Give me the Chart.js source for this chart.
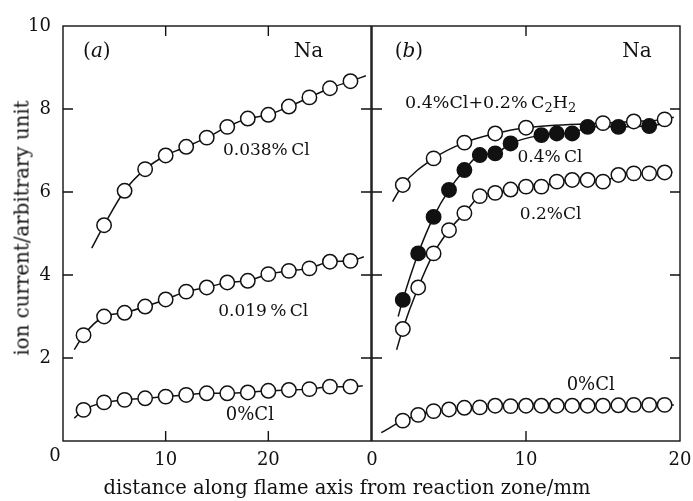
<!DOCTYPE html>
<html><head><meta charset="utf-8">
<script src="https://cdn.jsdelivr.net/npm/chart.js@4.4.1/dist/chart.umd.min.js"></script>
<style>
body{margin:0;background:#fff;width:693px;height:501px;overflow:hidden;position:relative;font-family:'DejaVu Serif',serif;color:#111}
#ca{position:absolute;left:0;top:0}
#cb{position:absolute;left:360px;top:0}
#yt{position:absolute;left:22px;top:228px;transform:translate(-50%,-50%) rotate(-90deg);white-space:nowrap;font-size:19.8px}
#xt{position:absolute;left:347px;top:487px;transform:translate(-50%,-50%);white-space:nowrap;font-size:19.5px}
</style></head>
<body>
<canvas id="ca" width="380" height="501"></canvas>
<canvas id="cb" width="333" height="501"></canvas>
<div id="yt">ion current/arbitrary unit</div>
<div id="xt">distance along flame axis from reaction zone/mm</div>
<script>
// ---- panel (a) data ----
const aX = [2,4,6,8,10,12,14,16,18,20,22,24,26,28];
const a038X = [4,6,8,10,12,14,16,18,20,22,24,26,28];
const a038Y = [5.2,6.03,6.55,6.88,7.09,7.31,7.57,7.77,7.86,8.06,8.28,8.5,8.67];
const a038Ends = [[2.8,4.65],[29.5,8.8]];
const a019Y = [2.55,3.0,3.09,3.24,3.41,3.6,3.7,3.82,3.86,4.02,4.1,4.16,4.32,4.34];
const a019Ends = [[1.1,2.2],[29.3,4.44]];
const a0Y = [0.75,0.93,0.99,1.03,1.07,1.11,1.15,1.15,1.17,1.21,1.23,1.25,1.31,1.31];
const a0Ends = [[1.1,0.55],[29.2,1.33]];
// ---- panel (b) data ----
const bC2H2X = [2,4,6,8,10,15,17,19];
const bC2H2Y = [6.17,6.81,7.19,7.41,7.55,7.66,7.70,7.75];
const bC2H2Ends = [[1.34,5.77],[19.6,7.8]];
const b04X = [2,3,4,5,6,7,8,9,11,12,13,14,16,18];
const b04Y = [3.4,4.52,5.4,6.05,6.53,6.89,6.93,7.17,7.37,7.41,7.41,7.57,7.57,7.59];
const b04Ends = [[1.7,3.0],[19.0,7.65]];
const bX = [2,3,4,5,6,7,8,9,10,11,12,13,14,15,16,17,18,19];
const b02Y = [2.7,3.7,4.52,5.08,5.49,5.9,5.98,6.06,6.13,6.13,6.25,6.29,6.29,6.25,6.41,6.45,6.45,6.47];
const b02Ends = [[1.6,2.2],[19.5,6.49]];
const b0Y = [0.49,0.63,0.72,0.76,0.8,0.81,0.85,0.84,0.85,0.85,0.85,0.85,0.85,0.85,0.86,0.87,0.87,0.87];
const b0Ends = [[0.6,0.2],[19.6,0.87]];
// ---- axes ----
const aXTicks = [10,20];
const bXTicks = [0,10,20];
const yTicks = [2,4,6,8,10];
const innerYTicks = [2,4,6,8];

const INK = '#111';
const FONT = "'DejaVu Serif', serif";
const pts = (xs, ys) => xs.map((x,i)=>({x, y: ys[i]}));
const curve = (xs, ys, ends) => [{x:ends[0][0],y:ends[0][1]}, ...pts(xs,ys), {x:ends[1][0],y:ends[1][1]}];

function markers(data, filled){
  return {type:'line', data, showLine:false, pointRadius:7.2, pointHoverRadius:7.2,
    pointBorderWidth:1.5, pointBorderColor:INK, pointBackgroundColor: filled?INK:'#fff', order:0};
}
function line(data){
  return {type:'line', data, borderColor:INK, borderWidth:1.5, pointRadius:0, tension:0.35,
    cubicInterpolationMode:'monotone', fill:false, order:1};
}

const framePlugin = {
  id:'frame',
  afterDraw(chart, args, o){
    const {ctx, chartArea:a, scales} = chart;
    ctx.save();
    ctx.strokeStyle = INK; ctx.lineWidth = 1.4;
    ctx.strokeRect(a.left, a.top, a.right-a.left, a.bottom-a.top);
    const L = 10;
    ctx.beginPath();
    (o.xTicks||[]).forEach(v=>{
      const px = scales.x.getPixelForValue(v);
      ctx.moveTo(px,a.top); ctx.lineTo(px,a.top+L);
      ctx.moveTo(px,a.bottom); ctx.lineTo(px,a.bottom-L);
    });
    (o.yTicks||[]).forEach(v=>{
      const py = scales.y.getPixelForValue(v);
      ctx.moveTo(a.left,py); ctx.lineTo(a.left+L,py);
      ctx.moveTo(a.right,py); ctx.lineTo(a.right-L,py);
    });
    ctx.stroke();
    if (o.corner){
      ctx.fillStyle = INK; ctx.font = '18px '+FONT; ctx.textAlign='center'; ctx.textBaseline='middle';
      ctx.fillText(o.corner, a.left-8, a.bottom+15);
    }
    ctx.restore();
  }
};

const notesPlugin = {
  id:'notes',
  afterDraw(chart, args, o){
    const {ctx, scales} = chart;
    ctx.save(); ctx.fillStyle = INK; ctx.textBaseline='middle';
    (o.items||[]).forEach(it=>{
      const size = it.size||17;
      const segs = it.segs;
      const f = s => (s.it?'italic ':'')+(s.sub?Math.round(size*0.72):size)+'px '+FONT;
      let w = 0;
      segs.forEach(s=>{ ctx.font = f(s); s.w = ctx.measureText(s.t).width; w += s.w; });
      let x = scales.x.getPixelForValue(it.x) - w/2;
      const y = scales.y.getPixelForValue(it.y);
      ctx.textAlign='left';
      segs.forEach(s=>{ ctx.font = f(s); ctx.fillText(s.t, x, s.sub? y+5 : y); x += s.w; });
    });
    ctx.restore();
  }
};

const tickFont = {family:FONT, size:18};
const TS = '\u2009';

new Chart(document.getElementById('ca'), {
  data:{datasets:[
    markers(pts(a038X,a038Y)), markers(pts(aX,a019Y)), markers(pts(aX,a0Y)),
    line(curve(a038X,a038Y,a038Ends)), line(curve(aX,a019Y,a019Ends)), line(curve(aX,a0Y,a0Ends))
  ]},
  options:{
    responsive:false, animation:false, events:[],
    layout:{padding:{top:26,right:9,left:0,bottom:0}},
    plugins:{legend:{display:false}, tooltip:{enabled:false},
      frame:{xTicks:aXTicks, yTicks:innerYTicks, corner:'0'},
      notes:{items:[
        {x:3.3,y:9.37,size:20,segs:[{t:'('},{t:'a',it:true},{t:')'}]},
        {x:23.9,y:9.37,size:20,segs:[{t:'Na'}]},
        {x:19.8,y:7.0,segs:[{t:'0.038%'+TS+'Cl'}]},
        {x:19.5,y:3.12,segs:[{t:'0.019'+TS+'%'+TS+'Cl'}]},
        {x:18.2,y:0.63,size:18,segs:[{t:'0%Cl'}]}
      ]}},
    scales:{
      x:{type:'linear',min:0,max:30,grid:{display:false},border:{display:false},
        afterBuildTicks:s=>{s.ticks = aXTicks.map(v=>({value:v}));},
        ticks:{font:tickFont,color:INK,padding:1,maxRotation:0},
        afterFit:s=>{s.height=60;}},
      y:{type:'linear',min:0,max:10,grid:{display:false},border:{display:false},
        afterBuildTicks:s=>{s.ticks = yTicks.map(v=>({value:v}));},
        ticks:{font:tickFont,color:INK,padding:4},
        afterFit:s=>{s.width=63;}}
    }
  },
  plugins:[framePlugin, notesPlugin]
});

new Chart(document.getElementById('cb'), {
  data:{datasets:[
    markers(pts(b04X,b04Y),true), markers(pts(bC2H2X,bC2H2Y)), markers(pts(bX,b02Y)), markers(pts(bX,b0Y)),
    line(curve(bC2H2X,bC2H2Y,bC2H2Ends)), line(curve(b04X,b04Y,b04Ends)), line(curve(bX,b02Y,b02Ends)), line(curve(bX,b0Y,b0Ends))
  ]},
  options:{
    responsive:false, animation:false, events:[],
    layout:{padding:{top:26,right:13,left:12,bottom:0}},
    plugins:{legend:{display:false}, tooltip:{enabled:false},
      frame:{xTicks:[10], yTicks:innerYTicks},
      notes:{items:[
        {x:2.4,y:9.37,size:20,segs:[{t:'('},{t:'b',it:true},{t:')'}]},
        {x:17.2,y:9.37,size:20,segs:[{t:'Na'}]},
        {x:7.7,y:8.14,size:17.5,segs:[{t:'0.4%Cl+0.2%'+TS+'C'},{t:'2',sub:true},{t:'H'},{t:'2',sub:true}]},
        {x:11.56,y:6.84,segs:[{t:'0.4%'+TS+'Cl'}]},
        {x:11.6,y:5.45,segs:[{t:'0.2%Cl'}]},
        {x:14.2,y:1.35,size:18,segs:[{t:'0%Cl'}]}
      ]}},
    scales:{
      x:{type:'linear',min:0,max:20,grid:{display:false},border:{display:false},
        afterBuildTicks:s=>{s.ticks = bXTicks.map(v=>({value:v}));},
        ticks:{font:tickFont,color:INK,padding:1,maxRotation:0},
        afterFit:s=>{s.height=60;}},
      y:{type:'linear',min:0,max:10,display:false}
    }
  },
  plugins:[framePlugin, notesPlugin]
});
</script>
</body></html>
